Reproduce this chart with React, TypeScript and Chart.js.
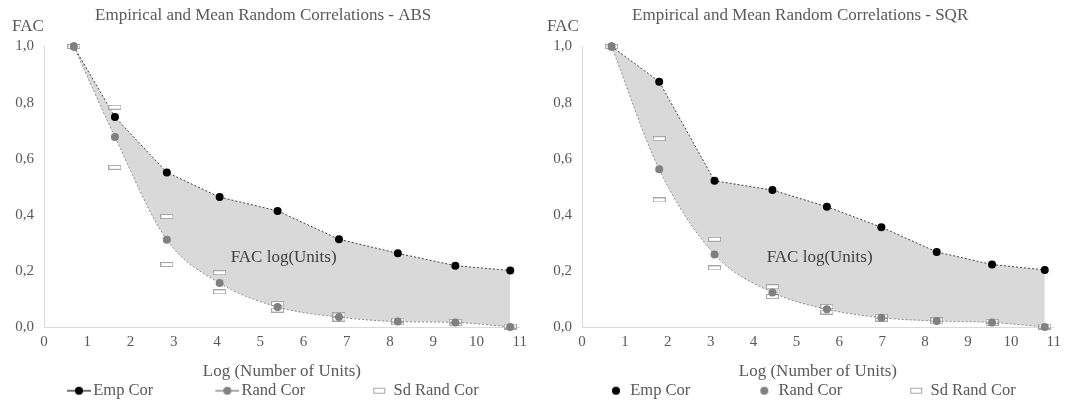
import React, { useEffect, useRef } from 'react';
import { Chart, registerables } from 'chart.js';

Chart.register(...registerables);

// ---------- data ----------
const xTickLabels = ['0', '1', '2', '3', '4', '5', '6', '7', '8', '9', '10', '11'];
const yTickLabels = ['0,0', '0,2', '0,4', '0,6', '0,8', '1,0'];
const legendLabels = ['Emp Cor', 'Rand Cor', 'Sd Rand Cor'];
const yAxisLabel = 'FAC';
const xAxisLabel = 'Log (Number of Units)';
const areaLabel = 'FAC log(Units)';
const areaLabelX = 5.54;
const areaLabelY = 0.25;

const absTitle = 'Empirical and Mean Random Correlations - ABS';
const absX = [0.69, 1.64, 2.84, 4.06, 5.4, 6.82, 8.18, 9.51, 10.78];
const absEmp = [1.0, 0.749, 0.552, 0.464, 0.415, 0.314, 0.264, 0.22, 0.203];
const absRand = [1.0, 0.678, 0.312, 0.158, 0.073, 0.037, 0.021, 0.018, 0.002];
const absSdUp = [1.0, 0.784, 0.395, 0.195, 0.085, 0.045, 0.026, 0.022, 0.005];
const absSdLow = [1.0, 0.57, 0.224, 0.127, 0.062, 0.03, 0.017, 0.014, 0.0];

const sqrTitle = 'Empirical and Mean Random Correlations - SQR';
const sqrX = [0.69, 1.8, 3.09, 4.44, 5.71, 6.98, 8.27, 9.56, 10.79];
const sqrEmp = [1.0, 0.875, 0.522, 0.489, 0.43, 0.357, 0.269, 0.224, 0.205];
const sqrRand = [1.0, 0.563, 0.26, 0.125, 0.065, 0.035, 0.023, 0.018, 0.002];
const sqrSdUp = [1.0, 0.672, 0.314, 0.145, 0.075, 0.04, 0.027, 0.022, 0.005];
const sqrSdLow = [1.0, 0.454, 0.212, 0.11, 0.055, 0.03, 0.02, 0.014, 0.0];

// ---------- style ----------
const FONT = "'Liberation Serif', 'DejaVu Serif', serif";
const TEXT = '#595959';
const AREA_TEXT = '#404040';
const FILL = '#d9d9d9';
const AXIS = '#d9d9d9';
const EMP_PT = '#000000';
const EMP_LINE = '#404040';
const RAND_PT = '#808080';
const RAND_LINE = '#8c8c8c';
const SD_BORDER = '#a6a6a6';

const LEG_BOX = 76;
const LEG_IMG_W = LEG_BOX + 12;

Chart.defaults.font.family = FONT;

type PanelSpec = {
  title: string;
  xs: number[];
  emp: number[];
  rand: number[];
  sdUp: number[];
  sdLow: number[];
  width: number;
  padLeft: number;
  axisWidth: number;
  padRight: number;
  facX: number;
  legendLines: boolean;
};

const panels: PanelSpec[] = [
  { title: absTitle, xs: absX, emp: absEmp, rand: absRand, sdUp: absSdUp, sdLow: absSdLow,
    width: 533, padLeft: 5, axisWidth: 39, padRight: 11.6, facX: 12, legendLines: true },
  { title: sqrTitle, xs: sqrX, emp: sqrEmp, rand: sqrRand, sdUp: sqrSdUp, sdLow: sqrSdLow,
    width: 534, padLeft: 9, axisWidth: 40, padRight: 8.7, facX: 14, legendLines: false },
];

function makeSdPoint(): HTMLCanvasElement {
  const c = document.createElement('canvas');
  c.width = 13;
  c.height = 5;
  const g = c.getContext('2d')!;
  g.fillStyle = '#ffffff';
  g.fillRect(0.5, 0.5, 12, 4);
  g.strokeStyle = SD_BORDER;
  g.lineWidth = 1;
  g.strokeRect(0.5, 0.5, 12, 4);
  return c;
}

function makeLegendMarker(kind: 'line' | 'dot' | 'rect', color: string, lineColor: string): HTMLCanvasElement {
  const c = document.createElement('canvas');
  c.width = LEG_IMG_W;
  c.height = 12;
  const g = c.getContext('2d')!;
  const cx = LEG_IMG_W - 12;
  const cy = 6;
  if (kind === 'line') {
    g.strokeStyle = lineColor;
    g.lineWidth = 1.5;
    g.beginPath();
    g.moveTo(LEG_IMG_W - 24, cy);
    g.lineTo(LEG_IMG_W, cy);
    g.stroke();
  }
  if (kind === 'line' || kind === 'dot') {
    g.fillStyle = color;
    g.beginPath();
    g.arc(cx, cy, 4, 0, Math.PI * 2);
    g.fill();
  } else {
    g.fillStyle = '#ffffff';
    g.fillRect(cx - 5.5, cy - 2.5, 11, 5);
    g.strokeStyle = SD_BORDER;
    g.lineWidth = 1;
    g.strokeRect(cx - 5.5, cy - 2.5, 11, 5);
  }
  return c;
}

function buildConfig(p: PanelSpec): any {
  const toPts = (ys: number[]) => p.xs.map((x, i) => ({ x, y: ys[i] }));
  const sdStyle = makeSdPoint();
  const legendStyles = [
    makeLegendMarker(p.legendLines ? 'line' : 'dot', EMP_PT, EMP_LINE),
    makeLegendMarker(p.legendLines ? 'line' : 'dot', RAND_PT, RAND_LINE),
    makeLegendMarker('rect', '#fff', SD_BORDER),
  ];
  const textPlugin = {
    id: 'panelText',
    afterDraw(chart: any) {
      const { ctx, scales } = chart;
      ctx.save();
      ctx.font = `17px ${FONT}`;
      ctx.fillStyle = TEXT;
      ctx.textAlign = 'left';
      ctx.textBaseline = 'alphabetic';
      ctx.fillText(yAxisLabel, p.facX, 31);
      ctx.fillStyle = AREA_TEXT;
      ctx.textAlign = 'center';
      ctx.textBaseline = 'middle';
      ctx.fillText(areaLabel, scales.x.getPixelForValue(areaLabelX), scales.y.getPixelForValue(areaLabelY));
      ctx.restore();
    },
  };
  return {
    type: 'line',
    data: {
      datasets: [
        {
          label: legendLabels[0],
          data: toPts(p.emp),
          borderColor: EMP_LINE,
          borderWidth: 1,
          borderDash: [2, 2],
          pointRadius: 4,
          pointHoverRadius: 4,
          pointBackgroundColor: EMP_PT,
          pointBorderWidth: 0,
          backgroundColor: FILL,
          fill: '+1',
          tension: 0,
          order: 3,
          clip: false,
        },
        {
          label: legendLabels[1],
          data: toPts(p.rand),
          borderColor: RAND_LINE,
          borderWidth: 1,
          borderDash: [2, 2],
          pointRadius: 4,
          pointHoverRadius: 4,
          pointBackgroundColor: RAND_PT,
          pointBorderWidth: 0,
          fill: false,
          cubicInterpolationMode: 'monotone',
          order: 1,
          clip: false,
        },
        {
          label: legendLabels[2],
          data: toPts(p.sdUp),
          showLine: false,
          pointStyle: sdStyle,
          pointRadius: 5,
          order: 2,
          clip: false,
        },
        {
          label: legendLabels[2],
          data: toPts(p.sdLow),
          showLine: false,
          pointStyle: sdStyle,
          pointRadius: 5,
          order: 2,
          clip: false,
        },
      ],
    },
    options: {
      responsive: false,
      animation: false,
      events: [],
      layout: { padding: { left: p.padLeft, right: p.padRight, top: 0, bottom: 0 } },
      plugins: {
        filler: { drawTime: 'beforeDatasetsDraw' },
        tooltip: { enabled: false },
        title: {
          display: true,
          text: p.title,
          color: TEXT,
          font: { size: 17, family: FONT, weight: 'normal' },
          padding: { top: 5.5, bottom: 20.6 },
        },
        legend: {
          display: true,
          position: 'bottom',
          align: 'start',
          labels: {
            usePointStyle: true,
            pointStyleWidth: LEG_BOX,
            padding: 4,
            color: TEXT,
            font: { size: 16.5, family: FONT },
            generateLabels: () =>
              legendLabels.map((text, i) => ({
                text,
                pointStyle: legendStyles[i],
                fillStyle: 'transparent',
                strokeStyle: 'transparent',
                lineWidth: 0,
                hidden: false,
                datasetIndex: i,
                fontColor: TEXT,
              })),
          },
        },
      },
      scales: {
        x: {
          type: 'linear',
          min: 0,
          max: 11,
          afterFit: (s: any) => { s.height = 51; },
          grid: { display: false, drawTicks: false },
          border: { display: true, color: AXIS, width: 1 },
          ticks: {
            stepSize: 1,
            autoSkip: false,
            maxRotation: 0,
            padding: 6,
            color: TEXT,
            font: { size: 15, family: FONT },
            callback: (_v: any, i: number) => xTickLabels[i],
          },
          title: {
            display: true,
            text: xAxisLabel,
            color: TEXT,
            font: { size: 17, family: FONT },
            padding: { top: 0, bottom: -3 },
          },
        },
        y: {
          type: 'linear',
          min: 0,
          max: 1,
          afterFit: (s: any) => { s.width = p.axisWidth; },
          grid: { display: false, drawTicks: false },
          border: { display: true, color: AXIS, width: 1 },
          ticks: {
            stepSize: 0.2,
            padding: 10,
            color: TEXT,
            font: { size: 15, family: FONT },
            callback: (_v: any, i: number) => yTickLabels[i],
          },
        },
      },
    },
    plugins: [textPlugin],
  };
}

function Panel({ spec }: { spec: PanelSpec }) {
  const ref = useRef<HTMLCanvasElement>(null);
  useEffect(() => {
    const canvas = ref.current;
    if (!canvas) return;
    const chart = new Chart(canvas, buildConfig(spec));
    return () => chart.destroy();
  }, [spec]);
  return (
    <canvas
      ref={ref}
      width={spec.width}
      height={409}
      style={{ display: 'block', width: spec.width, height: 409 }}
    />
  );
}

export default function App() {
  return (
    <div
      style={{
        position: 'fixed',
        left: 0,
        top: 0,
        width: 1067,
        height: 409,
        display: 'flex',
        background: '#ffffff',
      }}
    >
      {panels.map((p) => (
        <Panel key={p.title} spec={p} />
      ))}
    </div>
  );
}
